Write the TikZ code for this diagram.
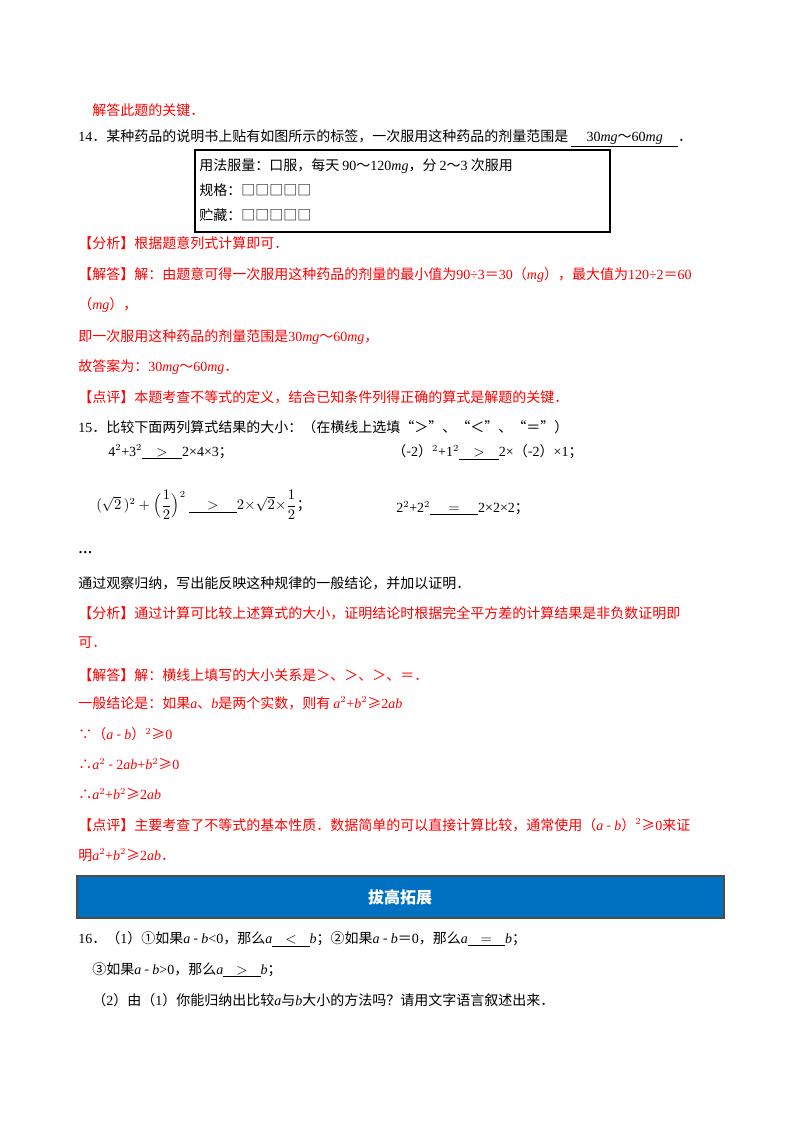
\documentclass[tikz,border=0pt]{standalone}
\usepackage{fontspec}
\setmainfont{Noto Sans CJK SC}
\newfontfamily\tm{Liberation Serif}
\newcommand{\I}[1]{{\tm\itshape #1}}
\newcommand{\R}[1]{{\tm #1}}
\newcommand{\ul}[2]{\underline{\makebox[#1]{\R{#2}}}}
\definecolor{ans}{HTML}{FF0000}
\definecolor{bann}{HTML}{0070C0}
\begin{document}
\begin{tikzpicture}[x=0.75pt,y=-0.75pt,
  t/.style={anchor=west,inner sep=0pt,font=\fontsize{10.5}{12}\selectfont},
  r/.style={t,text=ans}]
\useasboundingbox (0,0) rectangle (800,1132);
\fill[white] (0,0) rectangle (800,1132);
\node[r] (l1) at (92,110) {解答此题的关键．};
\node[t] (l2) at (78,138) {\R{14}．某种药品的说明书上贴有如图所示的标签，一次服用这种药品的剂量范围是 \underline{\makebox[80pt]{\R{30}\I{mg}～\R{60}\I{mg}}}．};
\draw[line width=0.8pt] (195,150) rectangle (610,232);
\node[t] (b1) at (199,166) {用法服量：口服，每天 \R{90}～\R{120}\I{mg}，分 \R{2}～\R{3} 次服用};
\node[t] (b2) at (199,190) {规格：□□□□□};
\node[t] (b3) at (199,215) {贮藏：□□□□□};
\node[r] (a1) at (78,243) {【分析】根据题意列式计算即可．};
\node[r] (a2) at (78,275) {【解答】解：由题意可得一次服用这种药品的剂量的最小值为\R{90÷3}＝\R{30}（\I{mg}），最大值为\R{120÷2}＝\R{60}};
\node[r] (a3) at (78,305) {（\I{mg}），};
\node[r] (a4) at (78,337) {即一次服用这种药品的剂量范围是\R{30}\I{mg}～\R{60}\I{mg}，};
\node[r] (a5) at (78,367) {故答案为：\R{30}\I{mg}～\R{60}\I{mg}．};
\node[r] (a6) at (78,397) {【点评】本题考查不等式的定义，结合已知条件列得正确的算式是解题的关键．};
\node[t] (q15) at (78,427) {\R{15}．比较下面两列算式结果的大小：（在横线上选填“＞”、“＜”、“＝”）};
\node[t] (e1) at (108,452) {\R{4$^2$+3$^2$}\ul{30pt}{$>$}\R{2×4×3}；};
\node[t] (e2) at (392,452) {（-\R{2}）\R{$^2$+1$^2$}\ul{30pt}{$>$}\R{2×}（-\R{2}）\R{×1}；};
\node[t] (e3) at (96,505) {$(\sqrt{2}\,)^2+\Bigl(\displaystyle\frac12\Bigr)^{2}$\ \ul{36pt}{$>$}$2{\times}\sqrt{2}{\times}\displaystyle\frac12$；};
\node[t] (e4) at (396,508) {\R{2$^2$+2$^2$}\ul{36pt}{$=$}\R{2×2×2}；};
\node[t] (dots) at (78,553) {\R{\textbf{…}}};
\node[t] (c1) at (78,583) {通过观察归纳，写出能反映这种规律的一般结论，并加以证明．};
\node[r] (c2) at (78,613) {【分析】通过计算可比较上述算式的大小，证明结论时根据完全平方差的计算结果是非负数证明即};
\node[r] (c3) at (78,643) {可．};
\node[r] (c4) at (78,675) {【解答】解：横线上填写的大小关系是＞、＞、＞、＝．};
\node[r] (c5) at (78,703) {一般结论是：如果\I{a}、\I{b}是两个实数，则有 \I{a}\R{$^2$+}\I{b}\R{$^2$}≥\R{2}\I{ab}};
\node[r] (c6) at (78,734) {∵（\I{a} - \I{b}）\R{$^2$}≥\R{0}};
\node[r] (c7) at (78,764) {∴\I{a}\R{$^2$} - \R{2}\I{ab}\R{+}\I{b}\R{$^2$}≥\R{0}};
\node[r] (c8) at (78,794) {∴\I{a}\R{$^2$+}\I{b}\R{$^2$}≥\R{2}\I{ab}};
\node[r] (c9) at (78,825) {【点评】主要考查了不等式的基本性质．数据简单的可以直接计算比较，通常使用（\I{a} - \I{b}）\R{$^2$}≥\R{0}来证};
\node[r] (c10) at (78,855) {明\I{a}\R{$^2$+}\I{b}\R{$^2$}≥\R{2}\I{ab}．};
\filldraw[fill=bann,draw=black!70,line width=0.8pt] (77,876) rectangle (724,918);
\node[font=\fontsize{12}{14}\bfseries\selectfont,text=white] (ban) at (400,897) {拔高拓展};
\node[t] (d1) at (78,939) {\R{16}．（\R{1}）①如果\I{a} - \I{b}\R{<0}，那么\I{a}\ul{28pt}{$<$}\I{b}；②如果\I{a} - \I{b}＝\R{0}，那么\I{a}\ul{28pt}{$=$}\I{b}；};
\node[t] (d2) at (92,970) {③如果\I{a} - \I{b}\R{>0}，那么\I{a}\ul{28pt}{$>$}\I{b}；};
\node[t] (d3) at (92,1000) {（\R{2}）由（\R{1}）你能归纳出比较\I{a}与\I{b}大小的方法吗？请用文字语言叙述出来．};
\end{tikzpicture}
\end{document}
